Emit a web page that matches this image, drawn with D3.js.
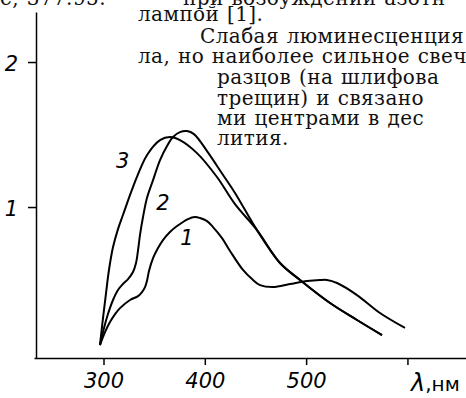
<!DOCTYPE html>
<html>
<head>
<meta charset="utf-8">
<script src="https://cdn.jsdelivr.net/npm/d3@7"></script>
<style>
  body { margin: 0; background: #fff; }
  svg { display: block; }
  .axis path, .axis line { stroke: #000; stroke-width: 1.5; }
  .axis text { font-family: "DejaVu Sans", sans-serif; font-style: italic; font-size: 21px; fill: #000; }
  .page { font-family: "DejaVu Serif", serif; font-size: 20px; letter-spacing: 0.4px; word-spacing: 1px; fill: #111; }
</style>
</head>
<body>
<svg id="chart" width="466" height="398"></svg>
<script>
// wavelength, nm  /  relative intensity
var wl1 = [296.5, 301.5, 306.4, 311.4, 316.3, 326.2, 334.1, 338.0, 341.0, 342.9, 344.9, 348.9, 353.8, 358.7, 365.6, 372.6, 383.4, 390.3, 395.3, 402.2, 408.1, 417.0, 424.9, 437.7, 446.6, 454.5, 467.3, 484.1, 500.9, 513.7, 520.6, 530.5, 550.2, 572.9, 597.6];
var i1  = [0.048, 0.138, 0.207, 0.262, 0.303, 0.359, 0.386, 0.414, 0.448, 0.490, 0.559, 0.648, 0.717, 0.772, 0.828, 0.869, 0.917, 0.931, 0.924, 0.903, 0.862, 0.786, 0.697, 0.566, 0.503, 0.462, 0.448, 0.469, 0.490, 0.497, 0.497, 0.476, 0.393, 0.269, 0.166];

var wl2 = [296.5, 300.5, 304.4, 309.4, 314.3, 319.2, 324.2, 329.1, 332.1, 334.1, 336.0, 339.0, 342.9, 348.9, 355.8, 362.7, 368.6, 375.5, 382.4, 389.3, 402.2, 418.0, 429.8, 451.5, 474.2, 494.0, 523.6, 550.2, 574.9];
var i2  = [0.048, 0.166, 0.262, 0.359, 0.428, 0.469, 0.503, 0.552, 0.614, 0.703, 0.807, 0.931, 1.062, 1.186, 1.324, 1.421, 1.483, 1.517, 1.524, 1.503, 1.386, 1.221, 1.097, 0.841, 0.614, 0.497, 0.338, 0.221, 0.117];

var wl3 = [296.5, 299.5, 302.5, 305.4, 309.4, 314.3, 319.2, 329.1, 343.0, 355.8, 365.6, 375.5, 392.3, 412.0, 429.8, 451.5, 474.2, 494.0, 523.6, 550.2, 574.9];
var i3  = [0.048, 0.234, 0.407, 0.566, 0.724, 0.848, 0.945, 1.138, 1.359, 1.462, 1.483, 1.462, 1.372, 1.207, 1.020, 0.841, 0.614, 0.497, 0.338, 0.221, 0.117];

var curveNames = ["1", "2", "3"];
var labelWl = [382.4, 358.7, 319];
var labelI  = [0.79, 1.03, 1.32];

var xTicks = [300, 400, 500, 600];
var xTickLabels = ["300", "400", "500", ""];
var yTicks = [1, 2];
var xTitle = "нм";

// book text that overlaps the figure
var pageLines = [
  {x: 0,   y: 5,   t: "е, 377.95."},
  {x: 183, y: 5,   t: "при возбуждении азотн"},
  {x: 138, y: 21,  t: "лампой [1]."},
  {x: 200, y: 43,  t: "Слабая люминесценция"},
  {x: 138, y: 63,  t: "ла, но наиболее сильное свеч"},
  {x: 217, y: 84,  t: "разцов (на шлифова"},
  {x: 217, y: 105, t: "трещин) и связано"},
  {x: 217, y: 125, t: "ми центрами в дес"},
  {x: 217, y: 145, t: "лития."}
];

var svg = d3.select("#chart");

var x = d3.scaleLinear().domain([231.4, 657.8]).range([34, 466]);
var y = d3.scaleLinear().domain([-0.041, 2.345]).range([358, 12]);

// axes
var xAxis = d3.axisBottom(x)
    .tickValues(xTicks)
    .tickFormat(function (d, i) { return xTickLabels[i]; })
    .tickSize(7)
    .tickSizeOuter(0)
    .tickPadding(8);

svg.append("g")
    .attr("class", "axis")
    .attr("transform", "translate(0,358)")
    .call(xAxis);

var yAxis = d3.axisLeft(y)
    .tickValues(yTicks)
    .tickFormat(d3.format("d"))
    .tickSize(8)
    .tickSizeOuter(0)
    .tickPadding(10);

svg.append("g")
    .attr("class", "axis")
    .attr("transform", "translate(36,0)")
    .call(yAxis)
    .selectAll("text").attr("dy", "0.38em");

// x title
var xt = svg.append("text")
    .attr("x", 411)
    .attr("y", 391)
    .attr("font-family", "DejaVu Sans, sans-serif")
    .attr("font-size", 20);
xt.append("tspan").attr("font-style", "italic").attr("font-size", 24).text("λ");
xt.append("tspan").text("," + xTitle);

// curves
var line = d3.line()
    .x(function (d) { return x(d[0]); })
    .y(function (d) { return y(d[1]); })
    .curve(d3.curveCatmullRom.alpha(0.5));

var series = [d3.zip(wl1, i1), d3.zip(wl2, i2), d3.zip(wl3, i3)];

svg.append("g").selectAll("path")
    .data(series)
    .join("path")
    .attr("d", line)
    .attr("fill", "none")
    .attr("stroke", "#000")
    .attr("stroke-width", 2)
    .attr("stroke-linejoin", "round");

svg.append("g").selectAll("text")
    .data(curveNames)
    .join("text")
    .attr("x", function (d, i) { return x(labelWl[i]); })
    .attr("y", function (d, i) { return y(labelI[i]); })
    .attr("text-anchor", "middle")
    .attr("dy", "0.36em")
    .attr("font-family", "DejaVu Sans, sans-serif")
    .attr("font-style", "italic")
    .attr("font-size", 21)
    .text(function (d) { return d; });

// page text
svg.append("g").selectAll("text")
    .data(pageLines)
    .join("text")
    .attr("class", "page")
    .attr("x", function (d) { return d.x; })
    .attr("y", function (d) { return d.y; })
    .text(function (d) { return d.t; });
</script>
</body>
</html>
